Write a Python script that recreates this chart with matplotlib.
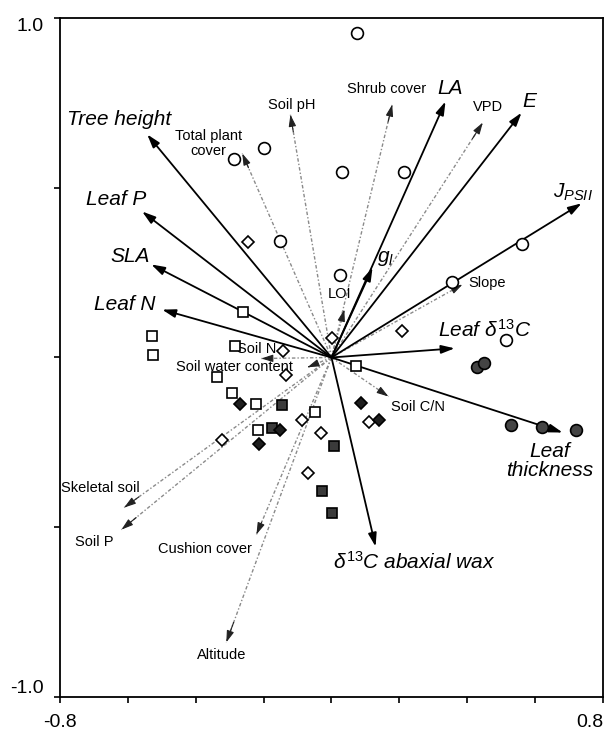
import matplotlib
matplotlib.use('Agg')
import matplotlib.pyplot as plt
import numpy as np

plt.rcParams['font.family'] = ['Liberation Sans', 'DejaVu Sans']
plt.rcParams['mathtext.fontset'] = 'custom'
plt.rcParams['mathtext.rm'] = 'Liberation Sans'
plt.rcParams['mathtext.it'] = 'Liberation Sans:italic'
plt.rcParams['mathtext.bf'] = 'Liberation Sans:bold'

# leaf trait loadings (solid arrows)
trait_names = ['Tree height', 'Leaf P', 'SLA', 'Leaf N', 'LA', 'E', r'$J_{PSII}$',
               r'$g_l$', r'$Leaf\ \delta^{13}C$', 'Leaf\nthickness', r'$\delta^{13}C\ abaxial\ wax$']
trait_x = [-0.543, -0.558, -0.531, -0.499, 0.336, 0.560, 0.737, 0.121, 0.363, 0.681, 0.130]
trait_y = [0.657, 0.430, 0.274, 0.141, 0.754, 0.721, 0.454, 0.265, 0.027, -0.221, -0.557]

# environmental variables (dotted arrows)
env_names = ['Total plant\ncover', 'Soil pH', 'Shrub cover', 'VPD', 'LOI', 'Slope', 'Soil N',
             'Soil water content', 'Soil C/N', 'Skeletal soil', 'Soil P', 'Cushion cover', 'Altitude']
env_x = [-0.263, -0.121, 0.179, 0.446, 0.038, 0.386, -0.207, -0.071, 0.168, -0.611, -0.619, -0.221, -0.310]
env_y = [0.601, 0.715, 0.745, 0.692, 0.141, 0.215, -0.003, -0.029, -0.115, -0.442, -0.507, -0.521, -0.839]

# site scores
open_circle_x = [0.074, -0.286, -0.198, 0.032, 0.215, -0.153, 0.560, 0.024, 0.354, 0.513]
open_circle_y = [0.957, 0.586, 0.616, 0.545, 0.545, 0.342, 0.333, 0.242, 0.221, 0.053]
filled_circle_x = [0.428, 0.448, 0.528, 0.619, 0.720]
filled_circle_y = [-0.029, -0.015, -0.200, -0.206, -0.215]
open_square_x = [-0.528, -0.525, -0.260, -0.283, -0.336, -0.292, -0.221, -0.218, 0.071, -0.050]
open_square_y = [0.062, 0.006, 0.133, 0.035, -0.056, -0.106, -0.138, -0.215, -0.024, -0.162]
filled_square_x = [-0.147, -0.174, 0.006, -0.027, 0.003]
filled_square_y = [-0.141, -0.209, -0.262, -0.392, -0.457]
open_diamond_x = [-0.245, -0.142, -0.133, -0.322, -0.088, 0.003, 0.209, -0.032, 0.112, -0.068]
open_diamond_y = [0.339, 0.018, -0.053, -0.242, -0.183, 0.056, 0.077, -0.221, -0.191, -0.339]
filled_diamond_x = [-0.271, -0.215, -0.153, 0.086, 0.139]
filled_diamond_y = [-0.138, -0.256, -0.215, -0.133, -0.183]

# label anchor points
trait_lab = [(-0.625, 0.701), (-0.634, 0.465), (-0.593, 0.297), (-0.608, 0.156), (0.351, 0.792),
             (0.584, 0.754), (0.711, 0.486), (0.158, 0.291), (0.453, 0.080), (0.643, -0.306),
             (0.245, -0.601)]
env_lab = [(-0.362, 0.630), (-0.118, 0.745), (0.162, 0.792), (0.460, 0.739), (0.024, 0.186),
           (0.460, 0.218), (-0.221, 0.024), (-0.286, -0.027), (0.254, -0.147), (-0.681, -0.383),
           (-0.699, -0.542), (-0.372, -0.563), (-0.324, -0.875)]

fig = plt.figure(figsize=(6.08, 7.31), dpi=100)
ax = fig.add_axes([0.0987, 0.0465, 0.893, 0.9289])
ax.set_xlim(-0.8, 0.8)
ax.set_ylim(-1.0, 1.0)

# environmental arrows: grey dotted shaft, small dark head
for name, x, y, (lx, ly) in zip(env_names, env_x, env_y, env_lab):
    ax.plot([0, x], [0, y], color='#8a8a8a', lw=1.0, ls=(0, (2.5, 1.5, 1, 1.5)), zorder=2)
    ax.annotate('', xy=(x, y), xytext=(0.93 * x, 0.93 * y),
                arrowprops=dict(arrowstyle='-|>,head_length=0.7,head_width=0.22', color='#222222',
                                lw=0.8, shrinkA=0, shrinkB=0), zorder=3)
    ax.text(lx, ly, name, fontsize=10.5, ha='center', va='center', linespacing=1.05, zorder=5)

# trait arrows
for name, x, y, (lx, ly) in zip(trait_names, trait_x, trait_y, trait_lab):
    ax.annotate('', xy=(x, y), xytext=(0, 0),
                arrowprops=dict(arrowstyle='-|>,head_length=0.8,head_width=0.25', color='black',
                                lw=1.3, shrinkA=0, shrinkB=0), zorder=4)
    ax.text(lx, ly, name, fontsize=15, style='italic', ha='center', va='center',
            linespacing=1.0, zorder=5)

mk = dict(markeredgecolor='black', markeredgewidth=1.2, ls='none', zorder=6)
ax.plot(open_circle_x, open_circle_y, 'o', ms=8.5, markerfacecolor='white', **mk)
ax.plot(filled_circle_x, filled_circle_y, 'o', ms=8.5, markerfacecolor='#444444', **mk)
ax.plot(open_square_x, open_square_y, 's', ms=7.5, markerfacecolor='white', **mk)
ax.plot(filled_square_x, filled_square_y, 's', ms=7.5, markerfacecolor='#3a3a3a', **mk)
ax.plot(open_diamond_x, open_diamond_y, 'D', ms=6.5, markerfacecolor='white', **mk)
ax.plot(filled_diamond_x, filled_diamond_y, 'D', ms=6.5, markerfacecolor='#1e1e1e', **mk)

ax.set_xticks(np.arange(-0.8, 0.81, 0.2))
ax.set_yticks([-1.0, -0.5, 0.0, 0.5, 1.0])
xlabels = ['' for _ in ax.get_xticks()]
xlabels[0], xlabels[-1] = '-0.8', '0.8'
ax.set_xticklabels(xlabels)
ylabels = ['-1.0', '', '', '', '1.0']
ax.set_yticklabels(ylabels)
ax.tick_params(direction='out', length=4, width=1.2, labelsize=14, pad=8)
for sp in ax.spines.values():
    sp.set_linewidth(1.3)
xt = ax.get_xticklabels()
xt[-1].set_ha('right')
xt[0].set_ha('center')
yt = ax.get_yticklabels()
yt[-1].set_va('top')
yt[0].set_va('bottom')

fig.savefig('out.png', dpi=100)
